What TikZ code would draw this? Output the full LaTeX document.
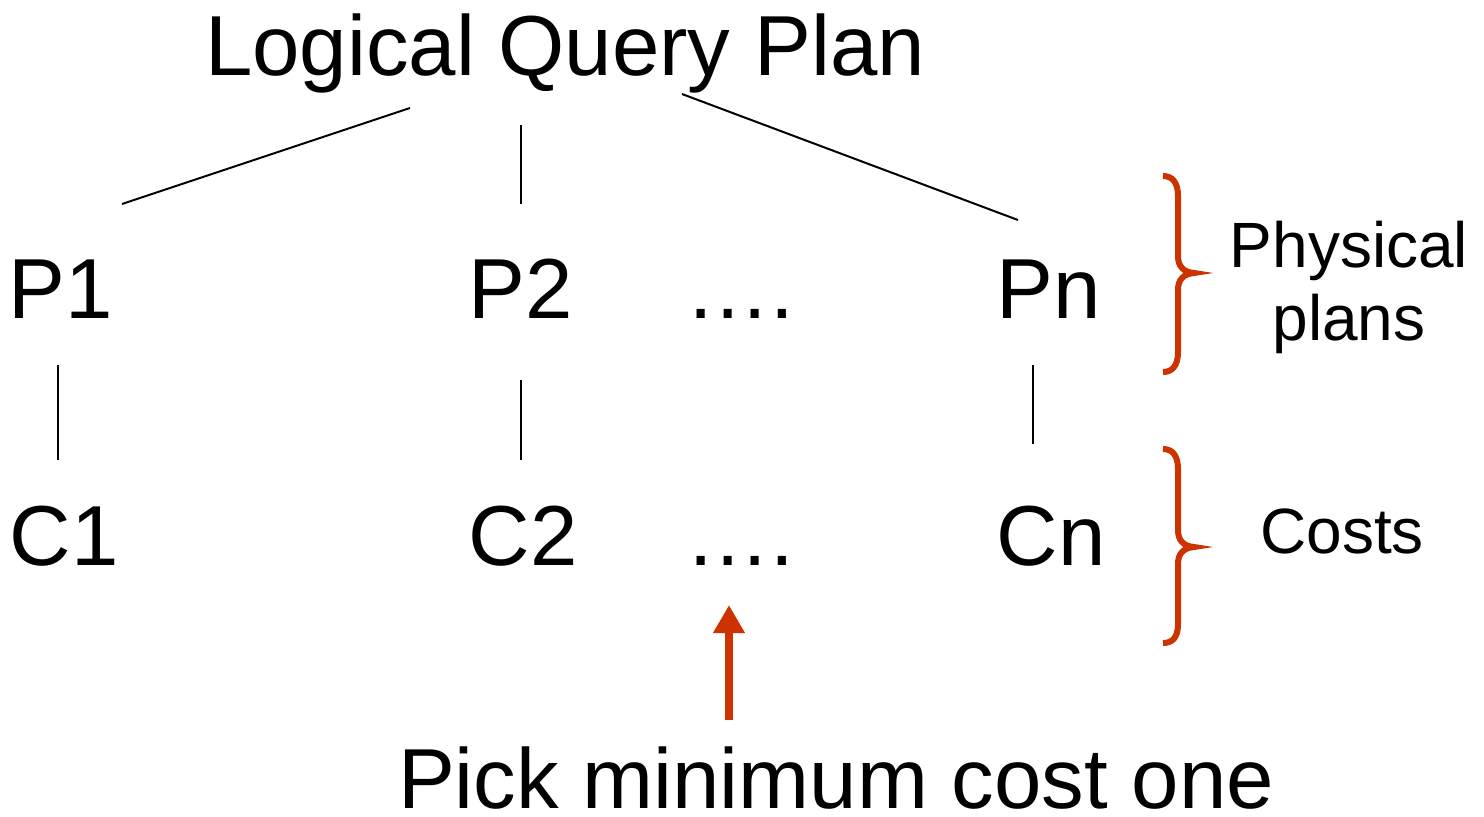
\documentclass[tikz,border=0pt]{standalone}
\usepackage{fontspec}
\setmainfont{Liberation Sans}
\usetikzlibrary{arrows.meta}
\definecolor{brick}{RGB}{204,51,0}
\tikzset{
  big/.style={font=\fontsize{42.6}{48}\selectfont, inner sep=0pt, anchor=base},
  small/.style={font=\fontsize{32}{36.5}\selectfont, inner sep=0pt, align=center},
  conn/.style={line width=1pt},
  bracered/.style={brick, line width=3pt},
}
\begin{document}
\begin{tikzpicture}[x=0.5pt,y=-0.5pt]
\useasboundingbox (0,0) rectangle (1484,816);

\node[big] (lqp) at (565,75) {Logical Query Plan};

\node[big] (p1) at (61,318) {P1};
\node[big] (p2) at (521,318) {P2};
\node[big] (pdots) at (740,318) {….};
\node[big] (pn) at (1049,318) {Pn};

\node[big] (c1) at (64,565) {C1};
\node[big] (c2) at (523,565) {C2};
\node[big] (cdots) at (740,565) {….};
\node[big] (cn) at (1051,565) {Cn};

\node[small, anchor=base] (phys) at (1349,340) {Physical\\plans};
\node[small, anchor=base] (costs) at (1342,553) {Costs};

\node[big] (pick) at (836,808) {Pick minimum cost one};

% lines from the logical plan
\coordinate (lq1) at (410,108);
\coordinate (lq2) at (521,125);
\coordinate (lq3) at (682,94);
\coordinate (p1t) at (122,204);
\coordinate (p2t) at (521,204);
\coordinate (pnt) at (1018,220);
\draw[conn] (lq1) -- (p1t);
\draw[conn] (lq2) -- (p2t);
\draw[conn] (lq3) -- (pnt);

% plans to costs
\coordinate (p1b) at (58,365);
\coordinate (p2b) at (521,380);
\coordinate (pnb) at (1033,365);
\coordinate (c1t) at (58,460);
\coordinate (c2t) at (521,460);
\coordinate (cnt) at (1033,444);
\draw[conn] (p1b) -- (c1t);
\draw[conn] (p2b) -- (c2t);
\draw[conn] (pnb) -- (cnt);

% braces
\draw[bracered] (1163,176) .. controls (1172,176) and (1178,182) .. (1178,196)
  -- (1178,256) .. controls (1178,266) and (1183,272) .. (1194,273)
  .. controls (1183,274) and (1178,280) .. (1178,290)
  -- (1178,352) .. controls (1178,366) and (1172,372) .. (1163,372);
\draw[bracered] (1163,449) .. controls (1172,449) and (1178,455) .. (1178,469)
  -- (1178,530) .. controls (1178,540) and (1183,546) .. (1194,547)
  .. controls (1183,548) and (1178,554) .. (1178,564)
  -- (1178,624) .. controls (1178,638) and (1172,643) .. (1163,643);

% arrow to the pick label
\coordinate (arrtail) at (729,720);
\coordinate (arrtip) at (729,605);
\draw[brick, line width=4pt, -{Triangle[width=15pt,length=14pt]}] (arrtail) -- (arrtip);
\end{tikzpicture}
\end{document}
